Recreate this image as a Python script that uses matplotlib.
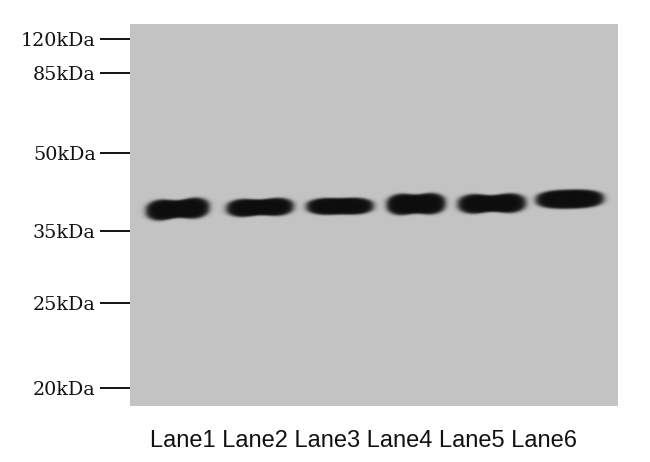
import numpy as np
import matplotlib
matplotlib.use("Agg")
import matplotlib.pyplot as plt

# ---- data ----
marker_labels = ["120kDa", "85kDa", "50kDa", "35kDa", "25kDa", "20kDa"]
marker_kda = [120, 85, 50, 35, 25, 20]
marker_rf = [0.039, 0.128, 0.338, 0.542, 0.730, 0.953]   # relative migration of ladder
lanes = ["Lane1", "Lane2", "Lane3", "Lane4", "Lane5", "Lane6"]
band_kda = [38.7, 39.0, 39.2, 39.6, 39.7, 40.5]

# band appearance (styling)
lane_offset = [0.0, 0.05, 0.07, 0.04, 0.006, 0.0]
band_halfwidth = [0.42, 0.445, 0.445, 0.39, 0.45, 0.45]
band_halfheight = [0.033, 0.028, 0.025, 0.033, 0.031, 0.026]
band_waist = [0.26, 0.22, 0.10, 0.20, 0.26, 0.0]
band_tilt = [-0.005, -0.003, -0.001, -0.002, -0.002, -0.002]

BG = 196.0
DARK = 14.0

fig = plt.figure(figsize=(6.5, 4.62), dpi=100)
fig.patch.set_facecolor("white")
ax = fig.add_axes([130 / 650, 56 / 462, 488 / 650, 382 / 462])

x0, x1 = 0.395, 6.611
ax.set_xlim(x0, x1)
ax.set_ylim(1, 0)

# build blot image
nx, ny = 976, 764
xs = np.linspace(x0, x1, nx)
ys = np.linspace(0, 1, ny)
X, Y = np.meshgrid(xs, ys)
alpha = np.zeros_like(X)

# band positions via ladder (log MW interpolation)
logm = np.log(np.array(marker_kda, dtype=float))
rf = np.array(marker_rf)
for i, kda in enumerate(band_kda):
    cy = np.interp(-np.log(kda), -logm, rf)
    cx = i + 1 + lane_offset[i]
    u = (X - cx) / band_halfwidth[i]
    yc = cy + band_tilt[i] * u
    h = band_halfheight[i] * (1 - band_waist[i] * np.exp(-(u / 0.45) ** 2))
    v = (Y - yc) / h
    r = (np.abs(u) ** 2.6 + np.abs(v) ** 2.6) ** (1 / 2.6)
    a = 1 / (1 + np.exp((r - 0.96) / 0.055))
    alpha = np.maximum(alpha, a)

img = BG - (BG - DARK) * alpha
ax.imshow(img, cmap="gray", vmin=0, vmax=255, extent=(x0, x1, 1, 0),
          origin="upper", aspect="auto", interpolation="bilinear")

for s in ax.spines.values():
    s.set_visible(False)
ax.set_xticks([])
ax.set_yticks(marker_rf)
ax.set_yticklabels(marker_labels, family="DejaVu Serif", fontsize=13.8, color="#111111")
ax.tick_params(axis="y", length=21.6, width=1.3, color="black", pad=3.0, direction="out")

fig.text(363 / 650, 15 / 462, " ".join(lanes), ha="center", va="baseline",
         family="Liberation Sans", fontsize=17, color="#111111")

fig.savefig("out.png", dpi=100, facecolor="white")
